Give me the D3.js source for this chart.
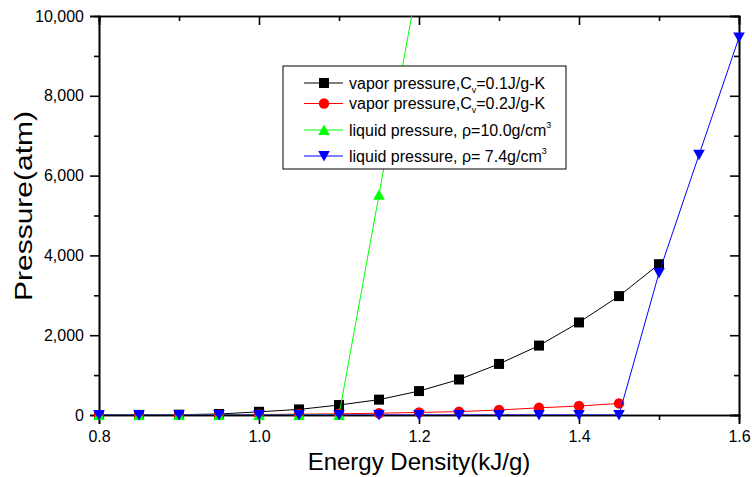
<!DOCTYPE html>
<html>
<head>
<meta charset="utf-8">
<script src="https://cdn.jsdelivr.net/npm/d3@7"></script>
<style>
  body { margin: 0; background: #fff; }
  svg { display: block; font-family: "Liberation Sans", Arial, sans-serif; }
</style>
</head>
<body>
<div id="chart"></div>
<script>
// energy density values (kJ/g)
const energy = [0.8, 0.85, 0.9, 0.95, 1.0, 1.05, 1.1, 1.15, 1.2, 1.25, 1.3, 1.35, 1.4, 1.45, 1.5, 1.55, 1.6];

// pressures (atm)
const vaporCv01 = [0, 2, 8, 25, 80, 140, 250, 385, 600, 890, 1280, 1740, 2320, 2980, 3780];
const vaporCv02 = [0, 1, 3, 6, 12, 20, 30, 45, 65, 85, 125, 180, 225, 290];
const liquidRho10 = [0, 0, 0, 0, 0, 0, 0, 5520, 11000];
const liquidRho74 = [0, 0, 0, 0, 0, 0, 0, 0, 0, 0, 0, 0, 0, 0, 3560, 6520, 9460];

const xMajor = [0.8, 1.0, 1.2, 1.4, 1.6];
const xMinor = [0.9, 1.1, 1.3, 1.5];
const yMajor = [0, 2000, 4000, 6000, 8000, 10000];
const yMinor = [1000, 3000, 5000, 7000, 9000];

const series = [
  {name: "vapor pressure,C", sub: "v", tail: "=0.1J/g-K", values: vaporCv01, color: "#000000", shape: "square"},
  {name: "vapor pressure,C", sub: "v", tail: "=0.2J/g-K", values: vaporCv02, color: "#ff0000", shape: "circle"},
  {name: "liquid pressure, ρ=10.0g/cm", sup: "3", values: liquidRho10, color: "#00ff00", shape: "up"},
  {name: "liquid pressure, ρ= 7.4g/cm", sup: "3", values: liquidRho74, color: "#0000ff", shape: "down"}
];

const width = 752, height = 477;
const plotLeft = 99, plotRight = 739, plotTop = 16, plotBottom = 415;

const svg = d3.select("#chart").append("svg")
  .attr("width", width).attr("height", height);

const x = d3.scaleLinear().domain([0.8, 1.6]).range([plotLeft, plotRight]);
const y = d3.scaleLinear().domain([0, 10000]).range([plotBottom, plotTop]);

svg.append("defs").append("clipPath").attr("id", "plotClip")
  .append("rect").attr("x", plotLeft).attr("y", plotTop)
  .attr("width", plotRight - plotLeft).attr("height", plotBottom - plotTop);

// marker drawing
function marker(g, shape, color) {
  if (shape === "square") {
    g.append("rect").attr("x", -5).attr("y", -5).attr("width", 10).attr("height", 10).attr("fill", color);
  } else if (shape === "circle") {
    g.append("circle").attr("r", 5.2).attr("fill", color);
  } else if (shape === "up") {
    g.append("path").attr("d", "M0,-5.5L5.8,5L-5.8,5Z").attr("fill", color);
  } else {
    g.append("path").attr("d", "M0,5.5L5.8,-5L-5.8,-5Z").attr("fill", color);
  }
}

// axes
function styleAxis(g) {
  g.select(".domain").attr("stroke", "#000").attr("stroke-width", 1.6);
  g.selectAll(".tick line").attr("stroke", "#000").attr("stroke-width", 1.6);
  g.selectAll(".tick text").attr("fill", "#000").style("font-size", "16px")
    .style("font-family", "'Liberation Sans', Arial, sans-serif");
}

svg.append("g").attr("transform", `translate(0,${plotBottom})`)
  .call(d3.axisBottom(x).tickValues(xMajor).tickSize(9).tickPadding(7).tickFormat(d3.format(".1f")))
  .call(styleAxis);
svg.append("g").attr("transform", `translate(0,${plotBottom})`)
  .call(d3.axisBottom(x).tickValues(xMinor).tickSize(5).tickFormat(""))
  .call(styleAxis);
svg.append("g").attr("transform", `translate(0,${plotTop})`)
  .call(d3.axisTop(x).tickValues(xMajor).tickSize(-9).tickFormat(""))
  .call(styleAxis);
svg.append("g").attr("transform", `translate(0,${plotTop})`)
  .call(d3.axisTop(x).tickValues(xMinor).tickSize(-5).tickFormat(""))
  .call(styleAxis);

svg.append("g").attr("transform", `translate(${plotLeft},0)`)
  .call(d3.axisLeft(y).tickValues(yMajor).tickSize(9).tickPadding(6).tickFormat(d3.format(",")))
  .call(styleAxis);
svg.append("g").attr("transform", `translate(${plotLeft},0)`)
  .call(d3.axisLeft(y).tickValues(yMinor).tickSize(5).tickFormat(""))
  .call(styleAxis);
svg.append("g").attr("transform", `translate(${plotRight},0)`)
  .call(d3.axisRight(y).tickValues(yMajor).tickSize(-9).tickFormat(""))
  .call(styleAxis);
svg.append("g").attr("transform", `translate(${plotRight},0)`)
  .call(d3.axisRight(y).tickValues(yMinor).tickSize(-5).tickFormat(""))
  .call(styleAxis);

// lines and points
series.forEach(s => {
  const pts = s.values.map((v, i) => [energy[i], v]);
  svg.append("path")
    .datum(pts)
    .attr("clip-path", "url(#plotClip)")
    .attr("fill", "none")
    .attr("stroke", s.color)
    .attr("stroke-width", 1)
    .attr("d", d3.line().x(d => x(d[0])).y(d => y(d[1])));

  svg.selectAll(null)
    .data(pts.filter(d => d[1] <= 10000))
    .enter().append("g")
    .attr("transform", d => `translate(${x(d[0])},${y(d[1])})`)
    .each(function() { marker(d3.select(this), s.shape, s.color); });
});

// axis titles
svg.append("text")
  .attr("x", (plotLeft + plotRight) / 2).attr("y", 470)
  .attr("text-anchor", "middle")
  .style("font-size", "24px")
  .text("Energy Density(kJ/g)");

svg.append("text")
  .attr("transform", "translate(32,206) rotate(-90)")
  .attr("text-anchor", "middle")
  .attr("textLength", 190).attr("lengthAdjust", "spacingAndGlyphs")
  .style("font-size", "23px")
  .text("Pressure(atm)");

// legend
const legend = svg.append("g");
legend.append("rect")
  .attr("x", 283).attr("y", 66).attr("width", 283).attr("height", 103)
  .attr("fill", "#fff").attr("stroke", "#000").attr("stroke-width", 1);

const rowY = [83, 103.5, 130, 156];
series.forEach((s, i) => {
  const row = legend.append("g").attr("transform", `translate(0,${rowY[i]})`);
  row.append("line").attr("x1", 304).attr("x2", 343).attr("y1", 0).attr("y2", 0)
    .attr("stroke", s.color).attr("stroke-width", 1);
  marker(row.append("g").attr("transform", "translate(324,0)"), s.shape, s.color);
  const t = row.append("text").attr("x", 349).attr("y", 5.8).style("font-size", "16px");
  t.append("tspan").text(s.name);
  if (s.sub) {
    t.append("tspan").attr("dy", 4).style("font-size", "9px").text(s.sub);
    t.append("tspan").attr("dy", -4).text(s.tail);
  }
  if (s.sup) {
    t.append("tspan").attr("dy", -8).style("font-size", "9px").text(s.sup);
  }
});
</script>
</body>
</html>
